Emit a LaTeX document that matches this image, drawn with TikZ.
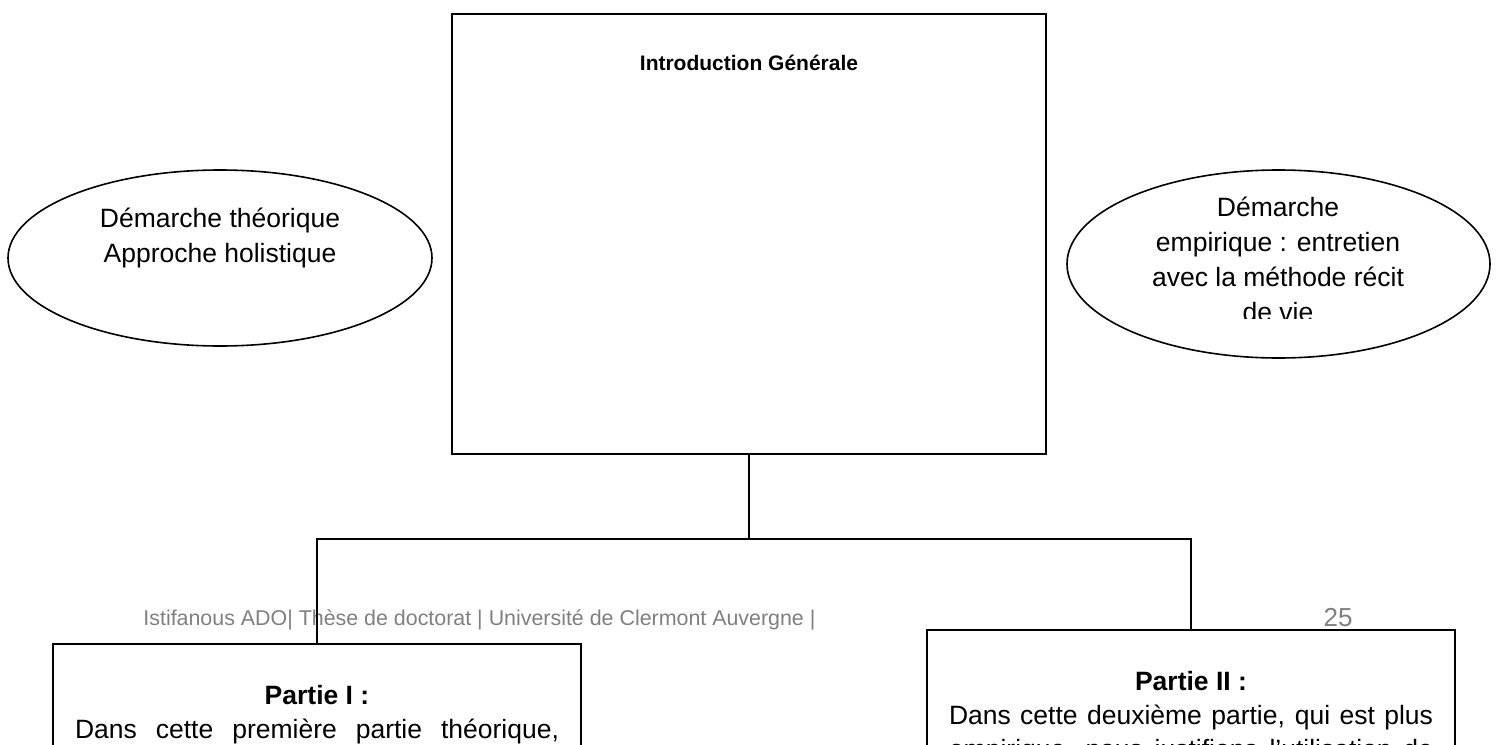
\documentclass[tikz,border=0pt]{standalone}
\usepackage{fontspec}
\setmainfont{Liberation Sans}
\usetikzlibrary{shapes.geometric}
\definecolor{footgray}{HTML}{7F7F7F}
\begin{document}
\begin{tikzpicture}[x=0.5pt, y=-0.5pt,
        block/.style={rectangle, draw, line width=1pt, inner sep=0pt},
        oval/.style={ellipse, draw, line width=0.8pt, inner sep=0pt},
        ovaltext/.style={font=\fontsize{13.25}{17.5}\selectfont, align=center, inner sep=0pt},
        partbox/.style={rectangle, draw, line width=1pt, anchor=north, text width=242pt, inner xsep=11pt, inner ysep=0pt,
            text height=30pt, text depth=150pt, align=justify, font=\fontsize{13.25}{17}\selectfont},
        footnote/.style={text=footgray, inner sep=0pt},
        link/.style={line width=1pt}]
        \clip (0,0) rectangle (1498,744);
        \node[block, minimum width=297pt, minimum height=220pt] (intro) at (749,234) {};
        \node[font=\fontsize{10.5}{13}\selectfont\bfseries, inner sep=0pt] (title) at (749,63) {Introduction Générale};
        \node[oval, minimum width=212pt, minimum height=88pt] (theory) at (220,258) {};
        \node[ovaltext] (theorytext) at (220,237.5) {Démarche théorique\\Approche holistique};
        \node[oval, minimum width=211.5pt, minimum height=94pt] (empiric) at (1278.5,264) {};
        \begin{scope}
            \clip (1060,150) rectangle (1498,318);
            \node[ovaltext] (empirictext) at (1278,259.5) {Démarche\\empirique : entretien\\avec la méthode récit\\de vie};
        \end{scope}
        \node[footnote, anchor=west, font=\fontsize{10.7}{13}\selectfont] (footer) at (143,620) {Istifanous ADO| Thèse de doctorat | Université de Clermont Auvergne |};
        \node[footnote, font=\fontsize{13}{15}\selectfont] (page) at (1338,618) {25};
        \node[partbox] (part1) at (317,643) {{\centering\textbf{Partie I :}\par}
            {\parfillskip=0pt Dans cette première partie théorique,\par}};
        \node[partbox] (part2) at (1191,629) {{\centering\textbf{Partie II :}\par}
            {\parfillskip=0pt Dans cette deuxième partie, qui est plus\par}
            {\parfillskip=0pt empirique, nous justifions l’utilisation de\par}};

        \coordinate (hub) at (749,539);
        \draw[link] (intro.south) -- (hub);
        \draw[link] (hub) -| (part1.north);
        \draw[link] (hub) -| (part2.north);
    \end{tikzpicture}
\end{document}
